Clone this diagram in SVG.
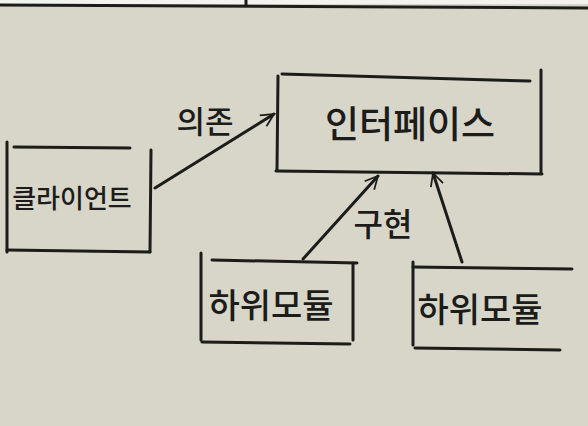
<svg xmlns="http://www.w3.org/2000/svg" width="588" height="426" viewBox="0 0 588 426">
<defs>
<style>
.ln{stroke:#1c1c1a;stroke-width:3;fill:none;stroke-linecap:round}
.t{font-family:"Noto Sans CJK KR","Noto Sans",sans-serif;fill:#1c1c1a;font-weight:500}
</style>
<marker id="ah" viewBox="0 0 20 20" refX="18" refY="10" markerWidth="16" markerHeight="16" markerUnits="userSpaceOnUse" orient="auto">
<path d="M2,2 L18,10 L2,18" fill="none" stroke="#1c1c1a" stroke-width="2.2"/>
</marker>
</defs>
<rect width="588" height="426" fill="#d7d6c9"/>
<rect width="588" height="4" fill="#f2f2ee"/>
<line x1="0" y1="5" x2="588" y2="8" class="ln" stroke-width="3"/>
<line x1="246" y1="0" x2="246" y2="5" class="ln" stroke-width="2"/>

<g id="interface">
<line class="ln" x1="282" y1="74" x2="530" y2="81"/>
<line class="ln" x1="278" y1="76" x2="277" y2="170"/>
<line class="ln" x1="276" y1="171" x2="542" y2="174"/>
<line class="ln" x1="541" y1="70" x2="541" y2="172"/>
<text class="t" x="410" y="138" font-size="37" text-anchor="middle">인터페이스</text>
</g>

<g id="client">
<line class="ln" x1="14" y1="147" x2="130" y2="148"/>
<line class="ln" x1="7" y1="142" x2="7" y2="252"/>
<line class="ln" x1="151" y1="150" x2="150" y2="252"/>
<line class="ln" x1="7" y1="250" x2="150" y2="252"/>
<text class="t" x="72" y="208" font-size="26" text-anchor="middle">클라이언트</text>
</g>

<g id="submodule1">
<line class="ln" x1="212" y1="260" x2="357" y2="263"/>
<line class="ln" x1="201" y1="253" x2="201" y2="340"/>
<line class="ln" x1="353" y1="263" x2="353" y2="340"/>
<line class="ln" x1="202" y1="342" x2="350" y2="344"/>
<text class="t" x="271" y="318" font-size="34" text-anchor="middle">하위모듈</text>
</g>

<g id="submodule2">
<line class="ln" x1="413" y1="267" x2="572" y2="269"/>
<line class="ln" x1="413" y1="262" x2="413" y2="345"/>
<line class="ln" x1="415" y1="348" x2="560" y2="350"/>
<text class="t" x="480" y="322" font-size="34" text-anchor="middle">하위모듈</text>
</g>

<g id="connectors">
<line class="ln" x1="155" y1="188" x2="274" y2="114" marker-end="url(#ah)"/>
<line class="ln" x1="303" y1="259" x2="378" y2="176" marker-end="url(#ah)"/>
<line class="ln" x1="462" y1="262" x2="433" y2="173" marker-end="url(#ah)"/>
<text class="t" x="205" y="133" font-size="31" text-anchor="middle">의존</text>
<text class="t" x="383" y="236" font-size="32" text-anchor="middle">구현</text>
</g>
</svg>
